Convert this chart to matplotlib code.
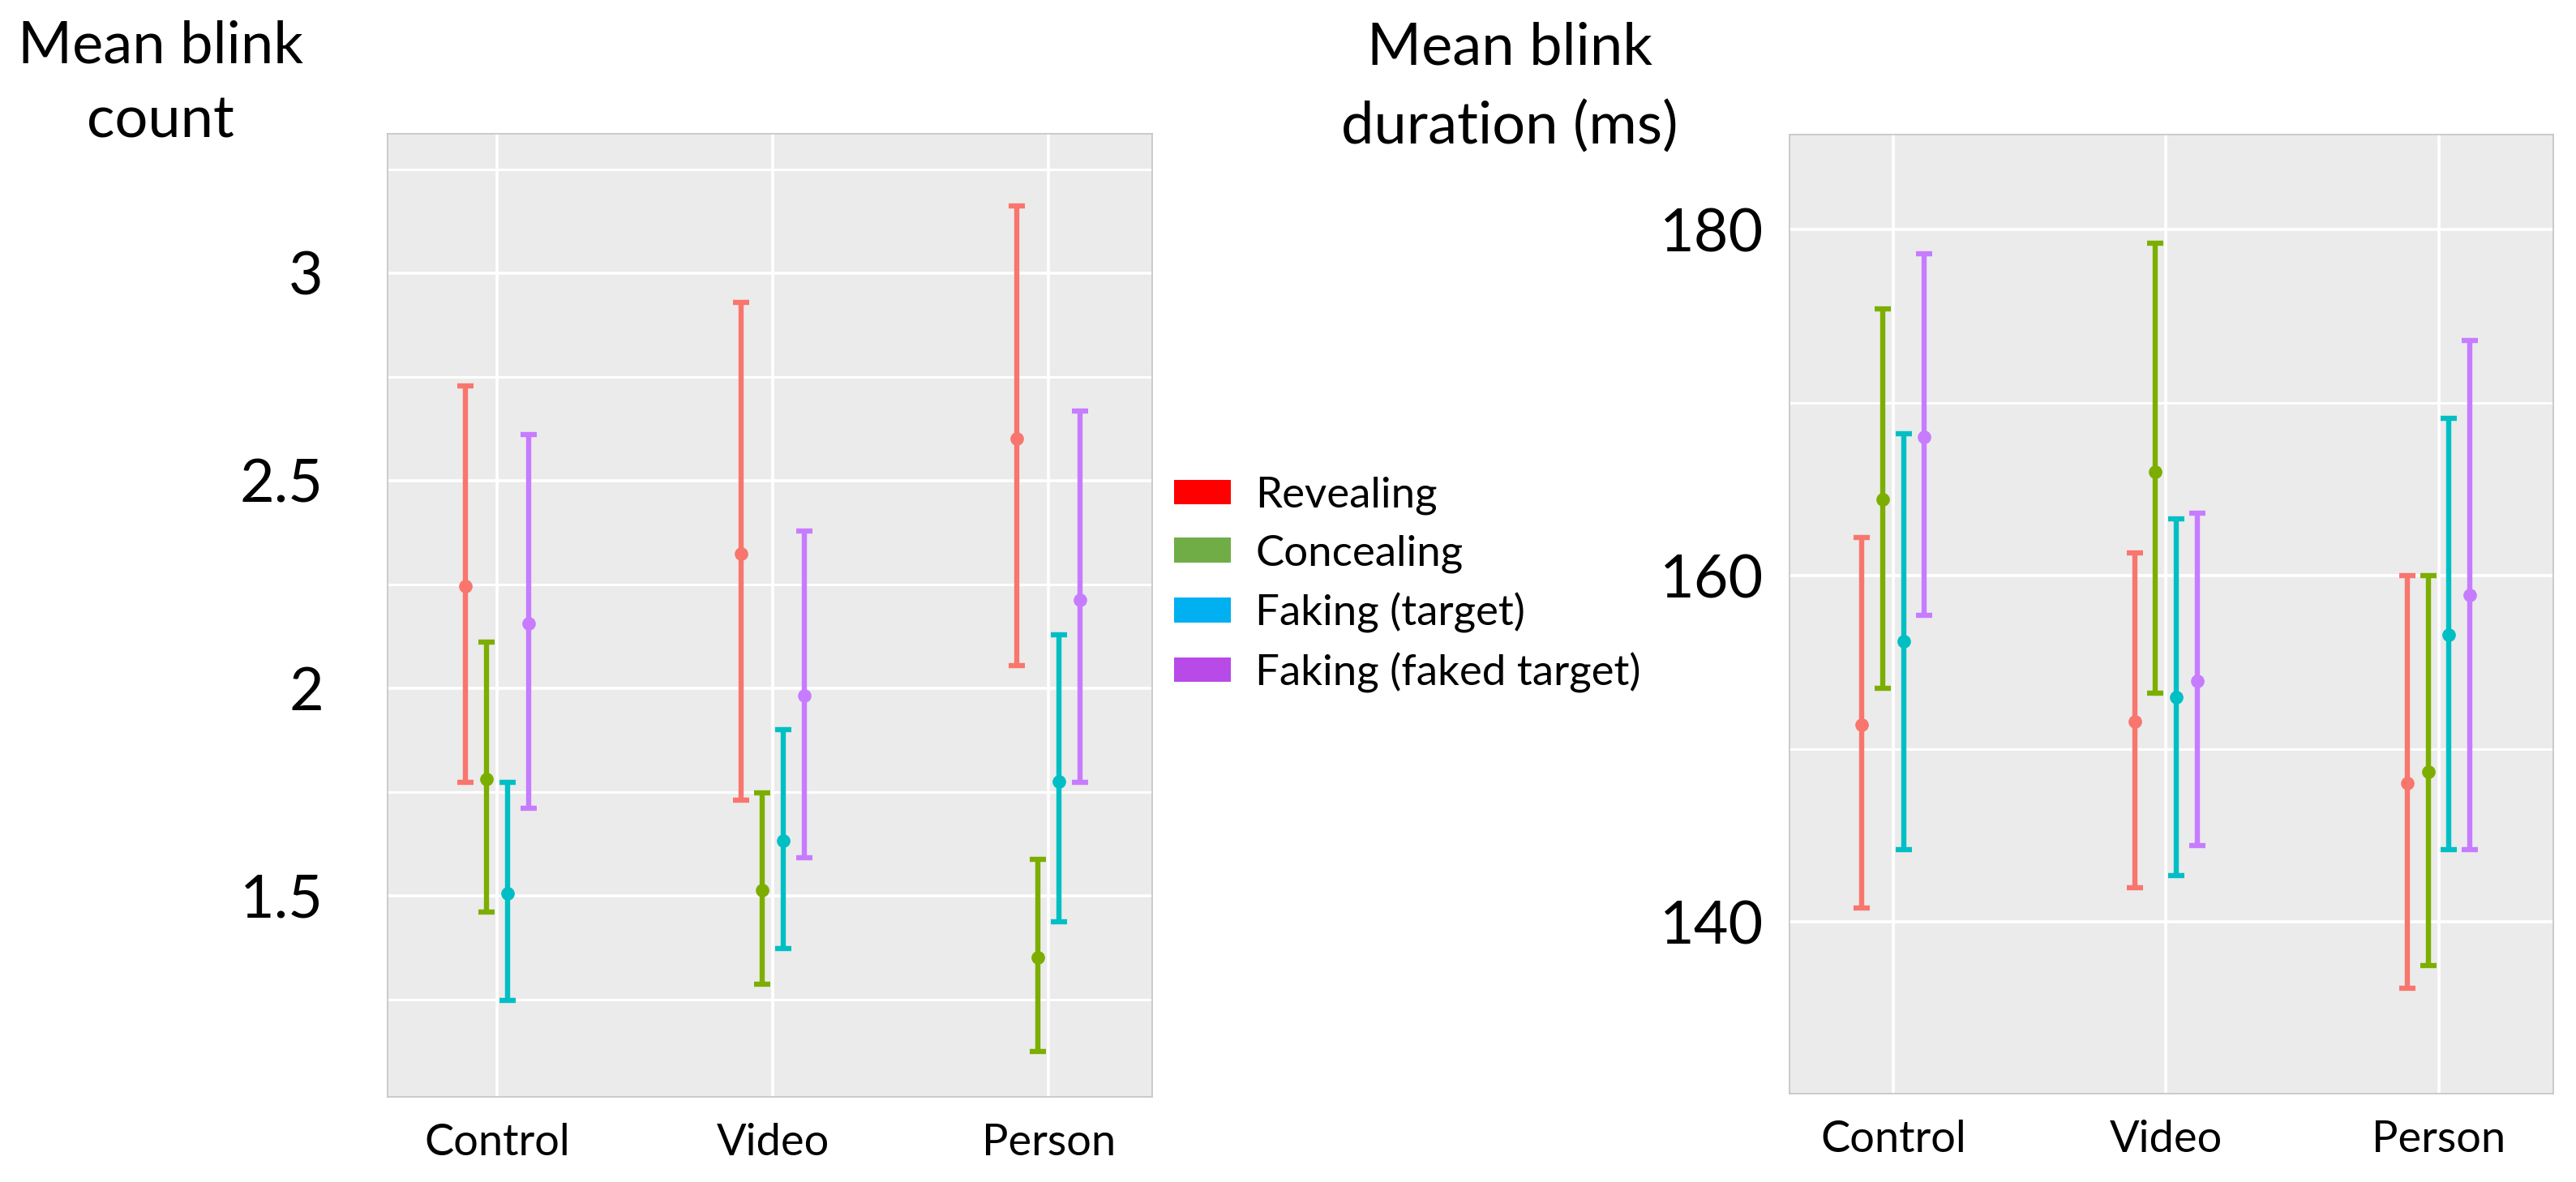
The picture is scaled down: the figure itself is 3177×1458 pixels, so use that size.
import matplotlib
matplotlib.use("Agg")
import matplotlib.pyplot as plt
from matplotlib.patches import Patch
import numpy as np

plt.rcParams['font.family'] = ['Lato', 'DejaVu Sans']

conditions = ["Control", "Video", "Person"]
groups = ["Revealing", "Concealing", "Faking (target)", "Faking (faked target)"]
point_colors = ["#F8766D", "#7CAE00", "#00BFC4", "#C77CFF"]
legend_colors = ["#FF0000", "#70AD47", "#00B0F0", "#B84AE8"]

# mean blink count (rows = groups, cols = conditions)
count_mean = [[2.246, 2.324, 2.601],
              [1.781, 1.513, 1.351],
              [1.505, 1.632, 1.775],
              [2.156, 1.982, 2.212]]
count_lo = [[1.772, 1.730, 2.054],
            [1.460, 1.286, 1.125],
            [1.248, 1.373, 1.437],
            [1.710, 1.592, 1.772]]
count_hi = [[2.728, 2.929, 3.161],
            [2.110, 1.748, 1.587],
            [1.772, 1.899, 2.129],
            [2.611, 2.379, 2.667]]

# mean blink duration in ms
dur_mean = [[151.4, 151.6, 148.0],
            [164.4, 166.0, 148.7],
            [156.2, 153.0, 156.6],
            [168.0, 153.9, 158.9]]
dur_lo = [[140.8, 142.0, 136.2],
          [153.5, 153.2, 137.5],
          [144.2, 142.7, 144.2],
          [157.7, 144.4, 144.2]]
dur_hi = [[162.2, 161.3, 160.0],
          [175.4, 179.2, 160.0],
          [168.2, 163.3, 169.1],
          [178.6, 163.6, 173.6]]

count_major = [1.5, 2, 2.5, 3]
count_minor = [1.25, 1.75, 2.25, 2.75, 3.25]
count_ticklabels = ["1.5", "2", "2.5", "3"]
dur_major = [140, 160, 180]
dur_minor = [150, 170]
dur_ticklabels = ["140", "160", "180"]

W, H = 3177, 1458
DODGE = 0.076


def draw_panel(ax, mean, lo, hi, ylim, xlim, major, minor, labels, ypad):
    ax.set_facecolor("#EBEBEB")
    x = np.arange(1, len(conditions) + 1)
    for k in range(len(groups)):
        m = np.array(mean[k])
        err = [m - np.array(lo[k]), np.array(hi[k]) - m]
        ax.errorbar(x + (k - 1.5) * DODGE, m, yerr=err, fmt="o",
                    color=point_colors[k], ecolor=point_colors[k],
                    elinewidth=4.6, capsize=7, capthick=4.6, markersize=11,
                    zorder=3)
    ax.set_xlim(*xlim)
    ax.set_ylim(*ylim)
    ax.set_xticks(x)
    ax.set_xticklabels(conditions, fontsize=39)
    ax.set_yticks(major)
    ax.set_yticklabels(labels, fontsize=53)
    ax.set_yticks(minor, minor=True)
    ax.tick_params(axis="both", which="both", length=0)
    ax.tick_params(axis="x", pad=23)
    ax.tick_params(axis="y", pad=ypad)
    ax.grid(True, which="major", color="white", linewidth=2.6)
    ax.grid(True, which="minor", axis="y", color="white", linewidth=2.2)
    ax.set_axisbelow(True)
    for s in ax.spines.values():
        s.set_color("#C4C4C4")
        s.set_linewidth(1.2)


fig = plt.figure(figsize=(W / 100, H / 100), dpi=100)

ax1 = fig.add_axes([478 / W, 1 - 1353 / H, 943 / W, 1188 / H])
draw_panel(ax1, count_mean, count_lo, count_hi, (1.015, 3.335), (0.603, 3.376),
           count_major, count_minor, count_ticklabels, 57)

ax2 = fig.add_axes([2207 / W, 1 - 1349 / H, 942 / W, 1183 / H])
draw_panel(ax2, dur_mean, dur_lo, dur_hi, (130.09, 185.48), (0.62, 3.42),
           dur_major, dur_minor, dur_ticklabels, 23)

fig.text(198 / W, 1 - 78 / H, "Mean blink", ha="center", va="baseline", fontsize=52)
fig.text(198 / W, 1 - 169 / H, "count", ha="center", va="baseline", fontsize=52)
fig.text(1862 / W, 1 - 80 / H, "Mean blink", ha="center", va="baseline", fontsize=52)
fig.text(1862 / W, 1 - 177 / H, "duration (ms)", ha="center", va="baseline", fontsize=52)

handles = [Patch(facecolor=c, edgecolor="none", label=g)
           for c, g in zip(legend_colors, groups)]
fig.legend(handles=handles, loc="upper left", bbox_to_anchor=(1448 / W, 1 - 588 / H),
           frameon=False, fontsize=38, handlelength=1.32, handleheight=0.5,
           handletextpad=0.58, labelspacing=0.45, borderpad=0, borderaxespad=0)

fig.savefig("out.png", dpi=100)
